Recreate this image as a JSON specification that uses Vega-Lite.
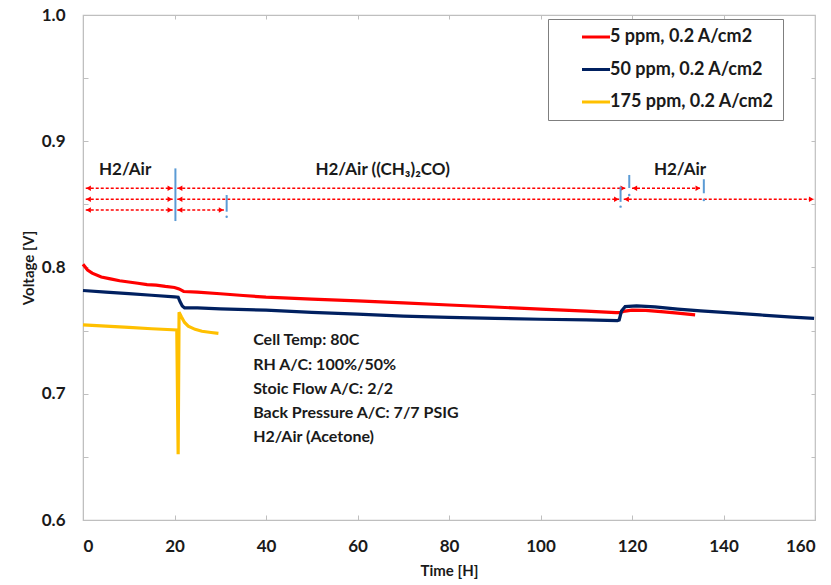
{
  "$schema": "https://vega.github.io/schema/vega-lite/v6.json",
  "width": 732,
  "height": 505,
  "autosize": {"type": "none"},
  "padding": {"left": 83, "top": 15, "right": 16, "bottom": 65},
  "background": "white",
  "config": {
    "font": "Lato",
    "view": {"stroke": "#BFBFBF", "strokeWidth": 1.2},
    "axis": {"grid": false, "domainColor": "#BFBFBF", "tickColor": "#BFBFBF", "labelColor": "#1a1a1a", "titleColor": "#1a1a1a", "labelFont": "Lato", "titleFont": "Lato", "labelFontWeight": "bold", "titleFontWeight": "bold", "labelFontSize": 17, "titleFontSize": 15}
  },
  "datasets": {
    "series": [
      {"t": 0, "v": 0.8025, "s": "5 ppm, 0.2 A/cm2"},
      {"t": 1, "v": 0.798, "s": "5 ppm, 0.2 A/cm2"},
      {"t": 2, "v": 0.7955, "s": "5 ppm, 0.2 A/cm2"},
      {"t": 4, "v": 0.7925, "s": "5 ppm, 0.2 A/cm2"},
      {"t": 6, "v": 0.791, "s": "5 ppm, 0.2 A/cm2"},
      {"t": 8, "v": 0.7895, "s": "5 ppm, 0.2 A/cm2"},
      {"t": 10, "v": 0.7885, "s": "5 ppm, 0.2 A/cm2"},
      {"t": 12, "v": 0.7875, "s": "5 ppm, 0.2 A/cm2"},
      {"t": 14, "v": 0.7865, "s": "5 ppm, 0.2 A/cm2"},
      {"t": 16, "v": 0.786, "s": "5 ppm, 0.2 A/cm2"},
      {"t": 18, "v": 0.785, "s": "5 ppm, 0.2 A/cm2"},
      {"t": 20, "v": 0.7842, "s": "5 ppm, 0.2 A/cm2"},
      {"t": 21, "v": 0.783, "s": "5 ppm, 0.2 A/cm2"},
      {"t": 22, "v": 0.781, "s": "5 ppm, 0.2 A/cm2"},
      {"t": 25, "v": 0.7805, "s": "5 ppm, 0.2 A/cm2"},
      {"t": 30, "v": 0.7792, "s": "5 ppm, 0.2 A/cm2"},
      {"t": 35, "v": 0.7778, "s": "5 ppm, 0.2 A/cm2"},
      {"t": 40, "v": 0.7765, "s": "5 ppm, 0.2 A/cm2"},
      {"t": 50, "v": 0.775, "s": "5 ppm, 0.2 A/cm2"},
      {"t": 60, "v": 0.7735, "s": "5 ppm, 0.2 A/cm2"},
      {"t": 70, "v": 0.772, "s": "5 ppm, 0.2 A/cm2"},
      {"t": 80, "v": 0.7703, "s": "5 ppm, 0.2 A/cm2"},
      {"t": 90, "v": 0.7687, "s": "5 ppm, 0.2 A/cm2"},
      {"t": 100, "v": 0.767, "s": "5 ppm, 0.2 A/cm2"},
      {"t": 110, "v": 0.7655, "s": "5 ppm, 0.2 A/cm2"},
      {"t": 116.5, "v": 0.7642, "s": "5 ppm, 0.2 A/cm2"},
      {"t": 117.3, "v": 0.7642, "s": "5 ppm, 0.2 A/cm2"},
      {"t": 118.5, "v": 0.7655, "s": "5 ppm, 0.2 A/cm2"},
      {"t": 120, "v": 0.7662, "s": "5 ppm, 0.2 A/cm2"},
      {"t": 123, "v": 0.766, "s": "5 ppm, 0.2 A/cm2"},
      {"t": 127, "v": 0.7648, "s": "5 ppm, 0.2 A/cm2"},
      {"t": 130, "v": 0.7638, "s": "5 ppm, 0.2 A/cm2"},
      {"t": 133.8, "v": 0.7625, "s": "5 ppm, 0.2 A/cm2"},
      {"t": 0, "v": 0.7818, "s": "50 ppm, 0.2 A/cm2"},
      {"t": 5, "v": 0.7805, "s": "50 ppm, 0.2 A/cm2"},
      {"t": 10, "v": 0.7793, "s": "50 ppm, 0.2 A/cm2"},
      {"t": 15, "v": 0.778, "s": "50 ppm, 0.2 A/cm2"},
      {"t": 20, "v": 0.7768, "s": "50 ppm, 0.2 A/cm2"},
      {"t": 20.8, "v": 0.7765, "s": "50 ppm, 0.2 A/cm2"},
      {"t": 21.2, "v": 0.773, "s": "50 ppm, 0.2 A/cm2"},
      {"t": 21.7, "v": 0.7695, "s": "50 ppm, 0.2 A/cm2"},
      {"t": 22.2, "v": 0.768, "s": "50 ppm, 0.2 A/cm2"},
      {"t": 25, "v": 0.768, "s": "50 ppm, 0.2 A/cm2"},
      {"t": 30, "v": 0.7672, "s": "50 ppm, 0.2 A/cm2"},
      {"t": 40, "v": 0.7662, "s": "50 ppm, 0.2 A/cm2"},
      {"t": 50, "v": 0.7645, "s": "50 ppm, 0.2 A/cm2"},
      {"t": 60, "v": 0.763, "s": "50 ppm, 0.2 A/cm2"},
      {"t": 70, "v": 0.7615, "s": "50 ppm, 0.2 A/cm2"},
      {"t": 80, "v": 0.7605, "s": "50 ppm, 0.2 A/cm2"},
      {"t": 90, "v": 0.7597, "s": "50 ppm, 0.2 A/cm2"},
      {"t": 100, "v": 0.759, "s": "50 ppm, 0.2 A/cm2"},
      {"t": 110, "v": 0.7585, "s": "50 ppm, 0.2 A/cm2"},
      {"t": 116.8, "v": 0.758, "s": "50 ppm, 0.2 A/cm2"},
      {"t": 117.2, "v": 0.7585, "s": "50 ppm, 0.2 A/cm2"},
      {"t": 117.7, "v": 0.7655, "s": "50 ppm, 0.2 A/cm2"},
      {"t": 118.5, "v": 0.769, "s": "50 ppm, 0.2 A/cm2"},
      {"t": 121, "v": 0.7696, "s": "50 ppm, 0.2 A/cm2"},
      {"t": 125, "v": 0.7688, "s": "50 ppm, 0.2 A/cm2"},
      {"t": 130, "v": 0.767, "s": "50 ppm, 0.2 A/cm2"},
      {"t": 135, "v": 0.7656, "s": "50 ppm, 0.2 A/cm2"},
      {"t": 140, "v": 0.7645, "s": "50 ppm, 0.2 A/cm2"},
      {"t": 148, "v": 0.7624, "s": "50 ppm, 0.2 A/cm2"},
      {"t": 155, "v": 0.7607, "s": "50 ppm, 0.2 A/cm2"},
      {"t": 159.8, "v": 0.7597, "s": "50 ppm, 0.2 A/cm2"},
      {"t": 0, "v": 0.7545, "s": "175 ppm, 0.2 A/cm2"},
      {"t": 5, "v": 0.7535, "s": "175 ppm, 0.2 A/cm2"},
      {"t": 10, "v": 0.7525, "s": "175 ppm, 0.2 A/cm2"},
      {"t": 15, "v": 0.7515, "s": "175 ppm, 0.2 A/cm2"},
      {"t": 20.5, "v": 0.7505, "s": "175 ppm, 0.2 A/cm2"},
      {"t": 20.8, "v": 0.652, "s": "175 ppm, 0.2 A/cm2"},
      {"t": 21.0, "v": 0.7645, "s": "175 ppm, 0.2 A/cm2"},
      {"t": 21.5, "v": 0.761, "s": "175 ppm, 0.2 A/cm2"},
      {"t": 22.2, "v": 0.7565, "s": "175 ppm, 0.2 A/cm2"},
      {"t": 23, "v": 0.7535, "s": "175 ppm, 0.2 A/cm2"},
      {"t": 24.5, "v": 0.751, "s": "175 ppm, 0.2 A/cm2"},
      {"t": 26, "v": 0.7495, "s": "175 ppm, 0.2 A/cm2"},
      {"t": 28, "v": 0.7485, "s": "175 ppm, 0.2 A/cm2"},
      {"t": 29.6, "v": 0.7478, "s": "175 ppm, 0.2 A/cm2"}
    ],
    "arrows": [
      {"t": 0.6, "t2": 19.6, "v": 0.8627},
      {"t": 20.6, "t2": 118.6, "v": 0.8627},
      {"t": 120.0, "t2": 135.0, "v": 0.8627},
      {"t": 0.6, "t2": 19.6, "v": 0.854},
      {"t": 20.6, "t2": 117.2, "v": 0.854},
      {"t": 118.2, "t2": 159.8, "v": 0.854},
      {"t": 0.6, "t2": 19.6, "v": 0.8455},
      {"t": 20.6, "t2": 30.8, "v": 0.8455}
    ],
    "heads": [
      {"t": 1.2, "v": 0.8627, "dir": "left"},
      {"t": 19.0, "v": 0.8627, "dir": "right"},
      {"t": 21.2, "v": 0.8627, "dir": "left"},
      {"t": 118.0, "v": 0.8627, "dir": "right"},
      {"t": 120.6, "v": 0.8627, "dir": "left"},
      {"t": 134.4, "v": 0.8627, "dir": "right"},
      {"t": 1.2, "v": 0.854, "dir": "left"},
      {"t": 19.0, "v": 0.854, "dir": "right"},
      {"t": 21.2, "v": 0.854, "dir": "left"},
      {"t": 116.6, "v": 0.854, "dir": "right"},
      {"t": 118.8, "v": 0.854, "dir": "left"},
      {"t": 159.2, "v": 0.854, "dir": "right"},
      {"t": 1.2, "v": 0.8455, "dir": "left"},
      {"t": 19.0, "v": 0.8455, "dir": "right"},
      {"t": 21.2, "v": 0.8455, "dir": "left"},
      {"t": 30.2, "v": 0.8455, "dir": "right"}
    ],
    "bars": [
      {"t": 20.2, "v": 0.8785, "v2": 0.8368},
      {"t": 31.4, "v": 0.8574, "v2": 0.8442},
      {"t": 117.5, "v": 0.864, "v2": 0.852},
      {"t": 119.4, "v": 0.8733, "v2": 0.863},
      {"t": 135.7, "v": 0.8699, "v2": 0.8588}
    ],
    "dots": [
      {"t": 31.4, "v": 0.8402},
      {"t": 117.5, "v": 0.8482},
      {"t": 119.4, "v": 0.8574},
      {"t": 135.7, "v": 0.8535}
    ],
    "labels": [
      {"t": 9.2, "v": 0.8772, "txt": "H2/Air"},
      {"t": 65.5, "v": 0.8772, "txt": "H2/Air ((CH₃)₂CO)"},
      {"t": 130.5, "v": 0.8772, "txt": "H2/Air"}
    ],
    "notes": [
      {"t": 37.2, "v": 0.7426, "txt": "Cell Temp: 80C"},
      {"t": 37.2, "v": 0.7228, "txt": "RH A/C: 100%/50%"},
      {"t": 37.2, "v": 0.7038, "txt": "Stoic Flow  A/C: 2/2"},
      {"t": 37.2, "v": 0.6848, "txt": "Back Pressure A/C: 7/7 PSIG"},
      {"t": 37.2, "v": 0.6657, "txt": "H2/Air (Acetone)"}
    ]
  },
  "resolve": {"axis": {"x": "independent", "y": "independent"}},
  "layer": [
    {
      "layer": [
        {
          "data": {"name": "series"},
          "mark": {"type": "line", "strokeWidth": 3.2, "interpolate": "linear"},
          "encoding": {
            "x": {"field": "t", "type": "quantitative", "scale": {"domain": [0, 160], "nice": false},
                  "axis": {"orient": "bottom", "title": "Time [H]", "values": [0, 20, 40, 60, 80, 100, 120, 140, 160], "tickSize": -5, "labelPadding": 23, "titlePadding": 9}},
            "y": {"field": "v", "type": "quantitative", "scale": {"domain": [0.6, 1.0], "nice": false, "zero": false},
                  "axis": {"orient": "left", "title": "Voltage [V]", "values": [0.6, 0.65, 0.7, 0.75, 0.8, 0.85, 0.9, 0.95, 1.0], "tickSize": -5, "labelPadding": 23, "titlePadding": 5,
                           "labelExpr": "(round(datum.value*100) % 10 == 0) ? format(datum.value, '.1f') : ''"}},
            "color": {"field": "s", "type": "nominal",
                      "scale": {"domain": ["5 ppm, 0.2 A/cm2", "50 ppm, 0.2 A/cm2", "175 ppm, 0.2 A/cm2"], "range": ["#FF0000", "#002060", "#FFC000"]},
                      "legend": {"orient": "none", "legendX": 465, "legendY": 4, "title": null, "symbolType": "M-2,0H2", "symbolStrokeWidth": 3, "symbolSize": 196,
                                 "labelFontSize": 18, "labelFontWeight": "bold", "labelColor": "#1a1a1a", "labelFont": "Lato", "labelLimit": 400, "strokeColor": "#7F7F7F", "fillColor": "white",
                                 "padding": 9, "rowPadding": 14.5, "symbolOffset": 30, "labelOffset": 5,
                                 "labelExpr": "datum.label + '\u00a0\u00a0\u00a0\u00a0\u00a0\u00a0'"}}
          }
        },
        {
          "data": {"name": "arrows"},
          "mark": {"type": "rule", "color": "#FF0000", "strokeWidth": 1.5, "strokeDash": [3, 2]},
          "encoding": {
            "x": {"field": "t", "type": "quantitative"},
            "x2": {"field": "t2"},
            "y": {"field": "v", "type": "quantitative"}
          }
        },
        {
          "data": {"name": "heads"},
          "mark": {"type": "point", "filled": true, "color": "#FF0000", "size": 30, "opacity": 1},
          "encoding": {
            "x": {"field": "t", "type": "quantitative"},
            "y": {"field": "v", "type": "quantitative"},
            "shape": {"field": "dir", "type": "nominal", "scale": {"domain": ["left", "right"], "range": ["triangle-left", "triangle-right"]}, "legend": null}
          }
        },
        {
          "data": {"name": "bars"},
          "mark": {"type": "rule", "color": "#5B9BD5", "strokeWidth": 2},
          "encoding": {
            "x": {"field": "t", "type": "quantitative"},
            "y": {"field": "v", "type": "quantitative"},
            "y2": {"field": "v2"}
          }
        },
        {
          "data": {"name": "dots"},
          "mark": {"type": "point", "filled": true, "color": "#5B9BD5", "size": 6, "opacity": 1},
          "encoding": {
            "x": {"field": "t", "type": "quantitative"},
            "y": {"field": "v", "type": "quantitative"}
          }
        },
        {
          "data": {"name": "labels"},
          "mark": {"type": "text", "font": "Lato", "fontSize": 17, "fontWeight": "bold", "color": "#1a1a1a", "align": "center", "baseline": "middle"},
          "encoding": {
            "x": {"field": "t", "type": "quantitative"},
            "y": {"field": "v", "type": "quantitative"},
            "text": {"field": "txt"}
          }
        },
        {
          "data": {"name": "notes"},
          "mark": {"type": "text", "font": "Lato", "fontSize": 16, "fontWeight": "bold", "color": "#1a1a1a", "align": "left", "baseline": "middle"},
          "encoding": {
            "x": {"field": "t", "type": "quantitative"},
            "y": {"field": "v", "type": "quantitative"},
            "text": {"field": "txt"}
          }
        }
      ]
    },
    {
      "data": {"name": "dots"},
      "mark": {"type": "point", "opacity": 0},
      "encoding": {
        "x": {"field": "t", "type": "quantitative", "axis": {"orient": "top", "labels": false, "title": null, "domain": false, "values": [20, 40, 60, 80, 100, 120, 140], "tickSize": -4}},
        "y": {"field": "v", "type": "quantitative", "axis": {"orient": "right", "labels": false, "title": null, "domain": false, "values": [0.65, 0.7, 0.75, 0.8, 0.85, 0.9, 0.95], "tickSize": -4}}
      }
    }
  ]
}
